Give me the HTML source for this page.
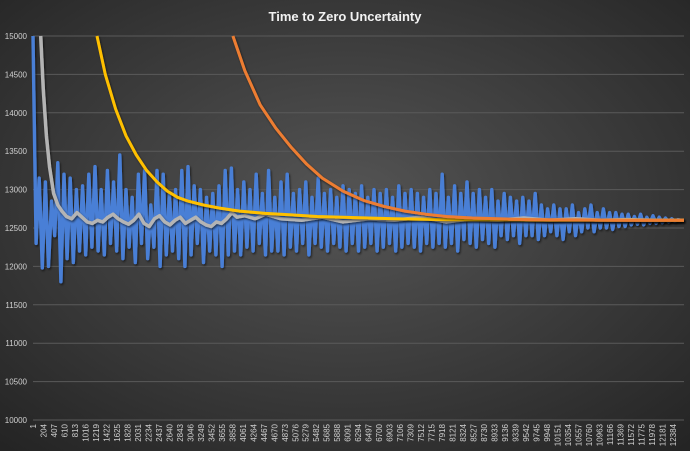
<!DOCTYPE html>
<html><head><meta charset="utf-8"><style>
html,body{margin:0;padding:0;width:690px;height:451px;overflow:hidden;background:#3a3a3a;}
svg{display:block;font-family:"Liberation Sans",sans-serif;}
</style></head><body>
<svg id="chart" width="690" height="451" viewBox="0 0 690 451">
<defs>
<radialGradient id="bg" cx="50%" cy="45%" r="75%">
<stop offset="0" stop-color="#555555"/><stop offset="1" stop-color="#232323"/>
</radialGradient>
<filter id="sh" x="-5%" y="-5%" width="110%" height="110%"><feDropShadow dx="1" dy="1.5" stdDeviation="1" flood-color="#000" flood-opacity="0.6"/></filter>
</defs>
<rect width="690" height="451" fill="url(#bg)"/>
<text x="345" y="21" text-anchor="middle" fill="#f2f2f2" font-size="13" font-weight="bold">Time to Zero Uncertainty</text>
<g id="grid"></g><g id="yt"></g><g id="xt"></g><g id="series"></g>
</svg>
<script>
const yTicks=[10000,10500,11000,11500,12000,12500,13000,13500,14000,14500,15000];
const xLabelStart=1, xLabelStep=203, xLabelCount=62;
const blueStep=60;
const blueValues=[15000,12300,13150,11980,13100,12000,12850,12400,13350,11800,13200,12100,13150,12050,13000,12200,13050,12150,13200,12250,
13300,12200,13000,12150,13250,12300,13100,12200,13450,12100,13000,12250,12900,12050,13200,12300,13250,12100,12800,12250,
13250,12000,13200,12150,12950,12200,13000,12100,13250,12000,13300,12150,13050,12300,13000,12050,12900,12200,12950,12150,
13050,12000,13250,12150,13280,12200,13000,12150,13100,12250,13000,12200,13200,12300,12950,12150,13250,12200,12900,12200,
13100,12150,13200,12250,12950,12200,13000,12300,13100,12150,12900,12300,13150,12250,12950,12200,13000,12300,12900,12250,
13050,12200,13000,12300,12950,12200,13050,12250,12900,12300,13000,12200,12950,12250,13000,12300,12900,12200,13050,12250,
12950,12300,13000,12250,12950,12200,12900,12300,13000,12250,12950,12300,13200,12250,12900,12300,13050,12200,12950,12350,
13100,12300,12950,12250,13000,12350,12900,12300,13000,12250,12850,12400,12950,12350,12900,12400,12850,12300,12900,12400,
12850,12400,12950,12350,12800,12400,12750,12450,12800,12400,12750,12350,12750,12450,12800,12400,12700,12450,12750,12500,
12800,12450,12700,12500,12750,12500,12700,12480,12700,12520,12680,12520,12680,12540,12650,12550,12680,12540,12640,12560,
12660,12560,12640,12570,12630,12580,12620,12590,12610,12600];
const grayIdx=[150,200,260,320,400,480,560,650,750,850,950,1050,1150,1250,1350,1450,1550,1650,1750,1850,1950,2050,2150,2250,2350,2450,2550,2650,2750,2850,2950,3050,3150,3250,3350,3450,3550,3650,3750,3850,3950,4100,4300,4500,4800,5200,5600,6000,6500,7000,7500,8000,8500,9000,9500,10000,10500,11000,11500,12000,12600];
const grayVal=[15000,14300,13700,13300,12950,12800,12720,12650,12620,12700,12640,12580,12560,12600,12580,12640,12680,12620,12580,12550,12600,12680,12560,12520,12620,12660,12580,12540,12600,12640,12560,12600,12640,12580,12540,12520,12580,12560,12620,12700,12640,12660,12620,12680,12620,12600,12640,12580,12620,12600,12640,12580,12620,12600,12630,12600,12620,12600,12610,12600,12600];
const yelIdx=[1240,1400,1600,1800,2000,2200,2400,2600,2800,3000,3300,3600,4000,4500,5000,5500,6000,7000,8000,9000,10000,11000,12000,12600];
const yelVal=[15000,14500,14050,13700,13450,13250,13100,12980,12900,12850,12800,12760,12720,12690,12670,12650,12640,12620,12610,12605,12602,12600,12600,12600];
const orIdx=[3870,4100,4400,4700,5000,5300,5600,6000,6400,6800,7200,7600,8000,8500,9000,9600,10500,11500,12600];
const orVal=[15000,14550,14100,13800,13550,13330,13150,12980,12860,12780,12720,12680,12650,12630,12620,12610,12605,12600,12600];
const NS="http://www.w3.org/2000/svg";
const X0=33,X1=684,XMAX=12600,Y0=420,Y1=36;
const xs=i=>X0+(i-1)/(XMAX-1)*(X1-X0);
const ys=v=>Y0-(v-10000)/5000*(Y0-Y1);
const grid=document.getElementById('grid'),yt=document.getElementById('yt'),xt=document.getElementById('xt'),ser=document.getElementById('series');
yTicks.forEach(v=>{
 const l=document.createElementNS(NS,'line');
 l.setAttribute('x1',X0);l.setAttribute('x2',X1);l.setAttribute('y1',ys(v));l.setAttribute('y2',ys(v));
 l.setAttribute('stroke','#5a5a5a');l.setAttribute('stroke-width','1');
 
 
 grid.appendChild(l);
 const t=document.createElementNS(NS,'text');
 t.setAttribute('x',27);t.setAttribute('y',ys(v)+3);t.setAttribute('text-anchor','end');
 t.setAttribute('fill','#d0d0d0');t.setAttribute('font-size','8');t.textContent=v;
 
 
 yt.appendChild(t);
});
for(let k=0;k<xLabelCount;k++){
 const v=xLabelStart+k*xLabelStep;
 const x=X0+k*10.49+3;
 const t=document.createElementNS(NS,'text');
 t.setAttribute('transform','translate('+x+',424) rotate(-90)');
 t.setAttribute('text-anchor','end');t.setAttribute('fill','#d0d0d0');t.setAttribute('font-size','8');
 t.textContent=v;
 
 
 xt.appendChild(t);
}
function line(pts,color,w,name){
 const p=document.createElementNS(NS,'polyline');
 p.setAttribute('points',pts.map(a=>a[0].toFixed(1)+','+a[1].toFixed(1)).join(' '));
 p.setAttribute('fill','none');p.setAttribute('stroke',color);p.setAttribute('stroke-width',w);
 p.setAttribute('stroke-linejoin','round');p.setAttribute('filter','url(#sh)');
 
 
 ser.appendChild(p);
}
line(blueValues.map((v,i)=>[xs(1+i*blueStep),ys(v)]),'#4a7fd6',3.4,'series-raw');
line(grayIdx.map((d,i)=>[xs(d),ys(grayVal[i])]),'#b4b4b4',3.5,'series-moving-average');
line(yelIdx.map((d,i)=>[xs(d),ys(yelVal[i])]),'#ffc000',3,'series-cumulative-average');
line(orIdx.map((d,i)=>[xs(d),ys(orVal[i])]),'#ed7d31',3,'series-late-average');
</script>
</body></html>
